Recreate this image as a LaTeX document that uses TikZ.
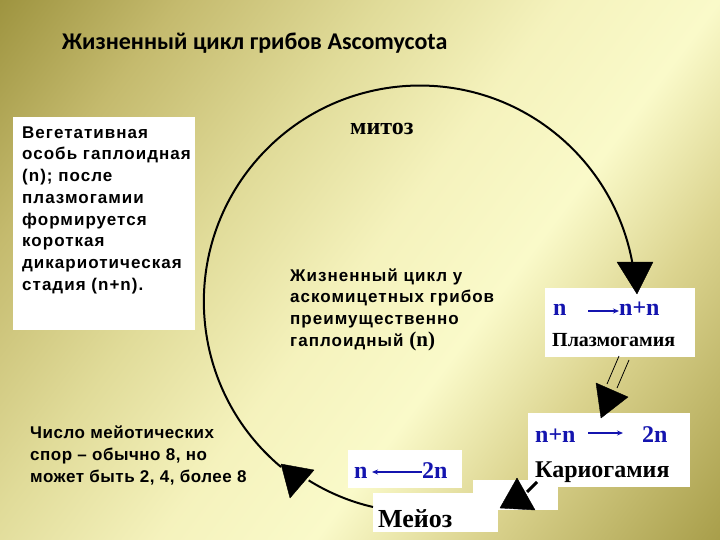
\documentclass[tikz,border=0pt]{standalone}
\usepackage{fontspec}
\setmainfont{Liberation Serif}
\newfontfamily\sanssp[LetterSpace=6]{Liberation Sans}
\newfontfamily\sansnr[LetterSpace=3]{Liberation Sans}
\newfontfamily\calib{Carlito}
\usetikzlibrary{arrows.meta}
\definecolor{tblue}{RGB}{20,20,175}
\pgfdeclarehorizontalshading{bgshade}{100bp}{%
 rgb(0bp)=(0.62,0.58,0.25);
 rgb(25bp)=(0.62,0.58,0.25);
 rgb(33bp)=(0.77,0.73,0.43);
 rgb(42bp)=(0.88,0.86,0.60);
 rgb(50bp)=(0.96,0.95,0.74);
 rgb(57bp)=(0.98,0.98,0.79);
 rgb(64bp)=(0.86,0.83,0.56);
 rgb(75bp)=(0.66,0.62,0.29);
 rgb(100bp)=(0.66,0.62,0.29)}
\begin{document}
\begin{tikzpicture}[x=1pt,y=-1pt,
  wbox/.style={fill=white, draw=none, anchor=north west, inner sep=0pt, outer sep=0pt},
  atext/.style={font=\sanssp\bfseries\fontsize{17}{21.7}\selectfont, align=left, anchor=north west, inner sep=0pt},
  btext/.style={font=\sansnr\bfseries\fontsize{17}{22}\selectfont, align=left, anchor=north west, inner sep=0pt},
  serl/.style={font=\bfseries\fontsize{20}{24}\selectfont, anchor=base west, inner sep=0pt},
  serbig/.style={font=\bfseries\fontsize{24}{28}\selectfont, anchor=base west, inner sep=0pt},
  bluet/.style={font=\bfseries\fontsize{24}{28}\selectfont, text=tblue, anchor=base west, inner sep=0pt},
  barrow/.style={tblue, line width=1.4pt, -{Stealth[length=6pt,width=5pt]}},
  cyc/.style={line width=2pt, black},
  head/.style={fill=black, draw=black, line join=round},
  thinl/.style={line width=0.8pt, black}
]
\useasboundingbox (0,0) rectangle (720,540);
% background
\begin{scope}
\clip (0,0) rectangle (720,540);
\begin{scope}[transform canvas={shift={(360,270)}, rotate=-36.87}]
  \shade[shading=bgshade] (-450,-450) rectangle (450,450);
\end{scope}
\end{scope}

% title
\node[font=\calib\bfseries\fontsize{24}{28}\selectfont, anchor=base west, inner sep=0pt] (title) at (62,50) {Жизненный цикл грибов Ascomycota};

% white boxes
\node[wbox, minimum width=182pt, minimum height=213pt] (lbox) at (13,117) {};
\node[wbox, minimum width=150pt, minimum height=69pt] (plas) at (545,288) {};
\node[wbox, minimum width=162pt, minimum height=74pt] (kar) at (528,413) {};
\node[wbox, minimum width=85pt, minimum height=30pt] (ebox) at (473,480) {};
\node[wbox, minimum width=114pt, minimum height=38pt] (nbox) at (348,450) {};
\node[wbox, minimum width=125pt, minimum height=39pt] (mei) at (373,493) {};

% texts
\node[atext] (ltext) at (22,122) {\rule{0pt}{16pt}Вегетативная\\особь гаплоидная\\(n); после\\плазмогамии\\формируется\\короткая\\дикариотическая\\стадия (n+n).};
\node[atext] (ctext) at (290,265) {\rule{0pt}{16pt}Жизненный цикл у\\аскомицетных грибов\\преимущественно\\гаплоидный {\rmfamily\bfseries\fontsize{21}{21}\selectfont (n)}};
\node[btext] (btxt) at (30,422) {\rule{0pt}{16pt}Число мейотических\\спор – обычно 8, но\\может быть 2, 4, более 8};
\node[serbig] (mitoz) at (350,135) {митоз};

% plasmogamy
\node[bluet] (pn) at (553,315) {n};
\node[bluet] (pnn) at (619,315) {n+n};
\coordinate (pa) at (588,311);
\draw[barrow] (pa) -- (pnn.west |- pa);
\node[serl] (plast) at (552,346) {Плазмогамия};

% karyogamy
\node[bluet] (knn) at (535,442) {n+n};
\node[bluet] (k2n) at (642,442) {2n};
\coordinate (ka) at (588,433);
\coordinate (kb) at (623,433);
\draw[barrow] (ka) -- (kb);
\node[serbig] (kart) at (535,477) {Кариогамия};

% meiosis
\node[bluet] (mn) at (354,478) {n};
\node[bluet] (m2n) at (422,478) {2n};
\coordinate (ma) at (372,472);
\draw[barrow] (m2n.west |- ma) -- (ma);
\node[serbig, font=\bfseries\fontsize{26}{30}\selectfont] (meit) at (378,527) {Мейоз};

% main cycle arc: from bottom-left arrowhead over the top to the plasmogamy box
\coordinate (cc) at (420,302);
\coordinate (arcstart) at (281,467);
\draw[cyc] (arcstart) arc[start angle=130, end angle=350, radius=216] coordinate (arcend);
\draw[head] (617,262) -- (653,262) -- (637,294) -- cycle;

% meiosis -> back to cycle
\coordinate (mstart) at (373,507);
\draw[cyc] (mstart) arc[start angle=103, end angle=122, radius=211] coordinate (mend);
\draw[head] (281,464) -- (314,470) -- (290,498) -- cycle;

% plasmogamy -> karyogamy (double line)
\coordinate (pl1) at (619,356);
\coordinate (pl2) at (629,360);
\coordinate (pk1) at (607,384);
\coordinate (pk2) at (617,388);
\draw[thinl] (pl1) -- (pk1);
\draw[thinl] (pl2) -- (pk2);
\draw[head] (596,383) -- (628,397) -- (601,418) -- cycle;

% karyogamy -> meiosis
\coordinate (kcorner) at (537,482);
\coordinate (kstub) at (527,492);
\draw[line width=3pt] (kcorner) -- (kstub);
\draw[head] (517,478) -- (500,508) -- (535,510) -- cycle;
\end{tikzpicture}
\end{document}
